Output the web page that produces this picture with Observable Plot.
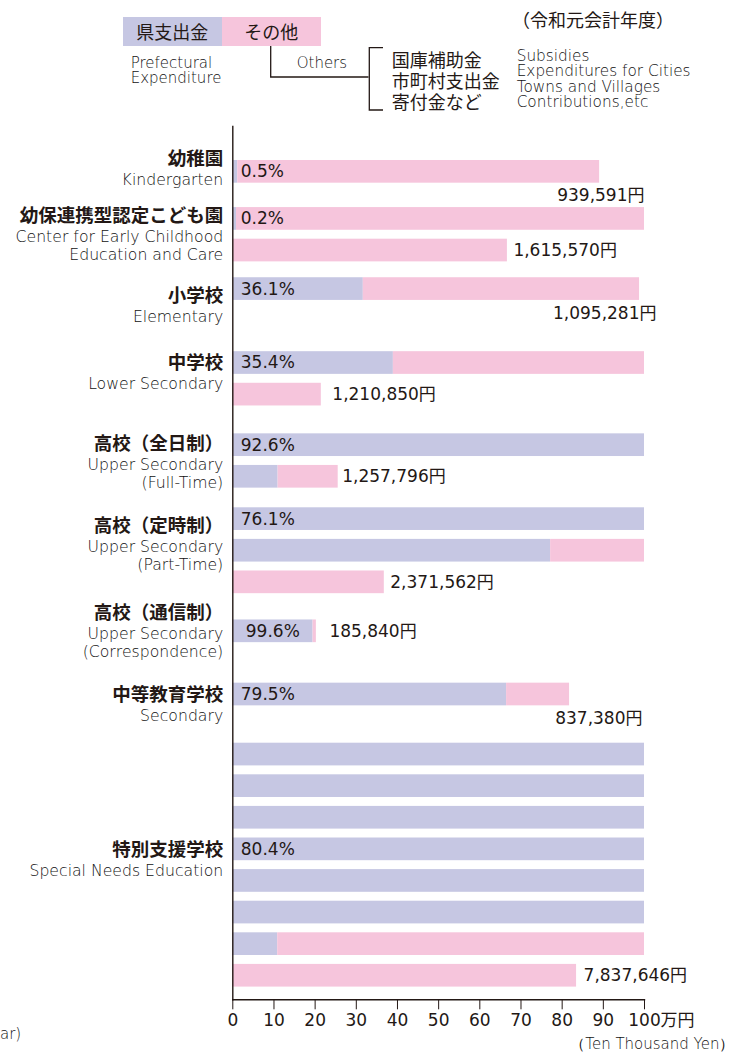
<!DOCTYPE html>
<html><head><meta charset="utf-8">
<script src="https://cdn.jsdelivr.net/npm/d3@7"></script>
<script src="https://cdn.jsdelivr.net/npm/@observablehq/plot@0.6"></script>
<style>
html,body{margin:0;padding:0;background:#fff;}
body{width:742px;height:1052px;overflow:hidden;position:relative;font-family:"Noto Sans CJK JP","Noto Sans",sans-serif;color:#231815;}
#legend{position:relative;height:120px;width:742px;}
#legend .abs{position:absolute;white-space:pre;}
.box{position:absolute;top:16.7px;height:29px;width:99px;font-size:18px;line-height:29px;text-align:center;}
.en{font-family:"DejaVu Sans",sans-serif;font-weight:200;color:#111;}
#chart svg{display:block;}
#note{position:absolute;left:0;top:1025px;font-family:"DejaVu Sans",sans-serif;font-weight:200;font-size:15px;color:#111;}
</style></head>
<body>
<div id="legend">
  <div class="box" style="left:122.7px;background:#c6c7e3;">県支出金</div>
  <div class="box" style="left:221.7px;background:#f6c5dc;">その他</div>
  <div class="abs en" style="left:130.7px;top:56px;font-size:15px;line-height:14.5px;">Prefectural
Expenditure</div>
  <div class="abs en" style="left:296.7px;top:54px;font-size:15px;line-height:18px;">Others</div>
  <div class="abs" style="left:391.7px;top:49px;font-size:18px;line-height:21px;">国庫補助金
市町村支出金
寄付金など</div>
  <div class="abs en" style="left:516.7px;top:49px;font-size:15.3px;line-height:15.4px;">Subsidies
Expenditures for Cities
Towns and Villages
Contributions,etc</div>
  <div class="abs" style="left:512px;top:7px;font-size:18px;line-height:24px;">（令和元会計年度）</div>
  <svg class="abs" width="742" height="120" style="left:0;top:0;">
    <polyline points="270.7,46 270.7,77 368.5,77" fill="none" stroke="#231815" stroke-width="1.3"/>
    <polyline points="383,47.7 369.3,47.7 369.3,110 383,110" fill="none" stroke="#231815" stroke-width="1.3"/>
  </svg>
</div>
<div id="chart"></div>
<div id="note">ar)</div>
<script>
// ---- data ----
const schoolsJa = ["幼稚園","幼保連携型認定こども園","小学校","中学校","高校（全日制）","高校（定時制）","高校（通信制）","中等教育学校","特別支援学校"];
const schoolsEn = ["Kindergarten","Center for Early Childhood\nEducation and Care","Elementary","Lower Secondary","Upper Secondary\n(Full-Time)","Upper Secondary\n(Part-Time)","Upper Secondary\n(Correspondence)","Secondary","Special Needs Education"];
const prefShare = ["0.5%","0.2%","36.1%","35.4%","92.6%","76.1%","99.6%","79.5%","80.4%"];
const perStudent = ["939,591円","1,615,570円","1,095,281円","1,210,850円","1,257,796円","2,371,562円","185,840円","837,380円","7,837,646円"];
// bar lengths as drawn (万円): total and prefectural part
const barTotal = [89.1, 166.7, 98.8, 121.5, 125.6, 236.8, 20.3, 81.8, 783.5];
const barPref  = [1.2, 0.9, 31.7, 39.0, 111.0, 177.2, 19.5, 66.5, 610.9];
const xTicks = [0,10,20,30,40,50,60,70,80,90,100];
const rowMax = 100;

// ---- layout (style) ----
const BLUE = "#c6c7e3", PINK = "#f6c5dc", INK = "#231815", EN_INK = "#111";
const gapBefore = [0, 0.49, 0.22, 1.34, 0.6, 0.34, 0.55, 1.0, 0.9];
const labelRow  = [0,0,0,0,0,0,0,0,3];
const jaShift   = [-13,-3,7,0,-1,7,-18,1,1];   // px
const pctDx     = [8,8,8,8,8,8,13,8,8];        // px
const amountBelow = [true,false,true,false,false,false,false,true,false];
const amountDx  = [0,6,12,11,4,6,13,-2,7];     // px
const BAR = 0.718;

const H = 932, topPx = 6, axisY = 879.3, pitch = 31.6, y0px = 40;
const mL = 232.3, mR = 98, W = 742;
const kx = (W - mL - mR) / 100; // px per 万円
const dom = [(topPx - y0px) / pitch, (axisY - y0px) / pitch];

const segs = [], groups = [];
let u = 0;
schoolsJa.forEach((name, g) => {
  u += gapBefore[g];
  const total = barTotal[g], pref = barPref[g];
  const n = Math.ceil(total / rowMax);
  for (let r = 0; r < n; r++) {
    const lo = r * rowMax, hi = Math.min(total, lo + rowMax);
    if (pref > lo) segs.push({x1: 0, x2: Math.min(hi, pref) - lo, y1: u + r, y2: u + r + BAR, k: "pref"});
    if (hi > pref) segs.push({x1: Math.max(lo, pref) - lo, x2: hi - lo, y1: u + r, y2: u + r + BAR, k: "other"});
  }
  const yLabel = u + labelRow[g] + BAR / 2;
  const jaY = yLabel + jaShift[g] / pitch;
  const lastEnd = total - (n - 1) * rowMax;
  groups.push({g, ja: name, en: schoolsEn[g], pct: prefShare[g], amt: perStudent[g],
    labX: -9.6 / kx, jaY, enY: jaY + 13 / pitch,
    pctX: pctDx[g] / kx, pctY: yLabel,
    amtX: amountBelow[g] ? rowMax + amountDx[g] / kx : lastEnd + amountDx[g] / kx,
    amtY: amountBelow[g] ? u + BAR / 2 + 24 / pitch : u + n - 1 + BAR / 2,
    below: amountBelow[g]});
  u += n;
});

const NUM_FONT = '"DejaVu Sans","Noto Sans CJK JP",sans-serif';
const EN_FONT = '"DejaVu Sans",sans-serif';

const chart = Plot.plot({
  width: W, height: H,
  marginLeft: mL, marginRight: mR, marginTop: topPx, marginBottom: H - axisY,
  x: {domain: [0, 100], axis: null},
  y: {type: "linear", domain: dom, reverse: true, axis: null},
  style: {fontFamily: '"Noto Sans CJK JP","Noto Sans",sans-serif', color: INK, background: "#fff"},
  marks: [
    Plot.rect(segs, {x1: "x1", x2: "x2", y1: "y1", y2: "y2", fill: d => d.k === "pref" ? BLUE : PINK}),
    Plot.frame({anchor: "left", stroke: INK, strokeWidth: 1.4}),
    Plot.frame({anchor: "bottom", stroke: INK, strokeWidth: 1.4}),
    Plot.axisX({ticks: xTicks, tickSize: 10, tickPadding: 4, fontSize: 17, fontFamily: NUM_FONT, tickFormat: d => String(d), stroke: INK, fill: INK}),
    Plot.text(["万円"], {x: 100, frameAnchor: "bottom", dx: 16, dy: 26, textAnchor: "start", fontSize: 17, fill: INK}),
    Plot.text(["（Ten Thousand Yen）"], {x: 100, frameAnchor: "bottom", dx: 90, dy: 49, textAnchor: "end", fontSize: 15, fontFamily: EN_FONT, fontWeight: 200, fill: EN_INK}),
    // left labels
    Plot.text(groups, {x: "labX", y: "jaY", text: "ja", textAnchor: "end", fontSize: 18.5, fontWeight: "bold", fill: INK}),
    Plot.text(groups, {x: "labX", y: "enY", text: "en", textAnchor: "end", lineAnchor: "top", lineHeight: 1.16, fontSize: 15.7, fontFamily: EN_FONT, fontWeight: 200, fill: EN_INK}),
    // percentages
    Plot.text(groups, {x: "pctX", y: "pctY", text: "pct", textAnchor: "start", fontSize: 17, fontFamily: NUM_FONT, fill: INK}),
    // amounts
    Plot.text(groups.filter(d => !d.below), {x: "amtX", y: "amtY", text: "amt", textAnchor: "start", fontSize: 17, fontFamily: NUM_FONT, fill: INK}),
    Plot.text(groups.filter(d => d.below), {x: "amtX", y: "amtY", text: "amt", textAnchor: "end", fontSize: 17, fontFamily: NUM_FONT, fill: INK})
  ]
});
document.getElementById("chart").appendChild(chart);
</script>
</body></html>
